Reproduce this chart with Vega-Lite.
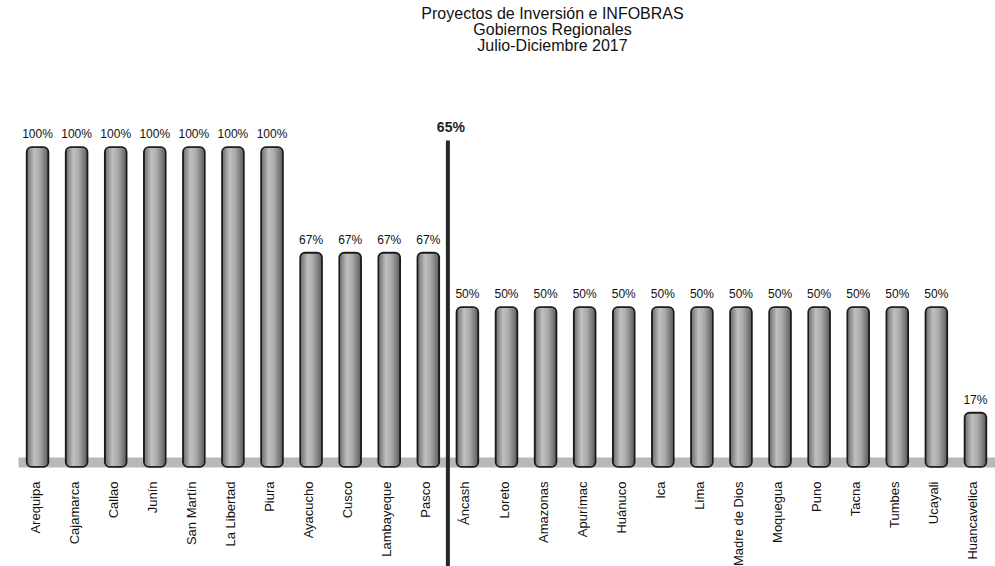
{
  "$schema": "https://vega.github.io/schema/vega-lite/v6.json",
  "width": 977,
  "height": 320,
  "autosize": {"type": "none"},
  "padding": {"left": 18, "top": 147, "right": 0, "bottom": 99},
  "background": "white",
  "config": {
    "view": {"stroke": null},
    "font": "Liberation Sans"
  },
  "title": {
    "text": ["Proyectos de Inversión e INFOBRAS", "Gobiernos Regionales", "Julio-Diciembre 2017"],
    "anchor": "middle",
    "dx": 46,
    "offset": 67,
    "fontSize": 16,
    "fontWeight": "normal",
    "lineHeight": 16,
    "font": "Liberation Sans",
    "color": "#111"
  },
  "datasets": {
    "bars": [
      {"region": "Arequipa", "pct": 100, "label": "100%"},
      {"region": "Cajamarca", "pct": 100, "label": "100%"},
      {"region": "Callao", "pct": 100, "label": "100%"},
      {"region": "Junín", "pct": 100, "label": "100%"},
      {"region": "San Martín", "pct": 100, "label": "100%"},
      {"region": "La Libertad", "pct": 100, "label": "100%"},
      {"region": "Piura", "pct": 100, "label": "100%"},
      {"region": "Ayacucho", "pct": 67, "label": "67%"},
      {"region": "Cusco", "pct": 67, "label": "67%"},
      {"region": "Lambayeque", "pct": 67, "label": "67%"},
      {"region": "Pasco", "pct": 67, "label": "67%"},
      {"region": "Áncash", "pct": 50, "label": "50%"},
      {"region": "Loreto", "pct": 50, "label": "50%"},
      {"region": "Amazonas", "pct": 50, "label": "50%"},
      {"region": "Apurímac", "pct": 50, "label": "50%"},
      {"region": "Huánuco", "pct": 50, "label": "50%"},
      {"region": "Ica", "pct": 50, "label": "50%"},
      {"region": "Lima", "pct": 50, "label": "50%"},
      {"region": "Madre de Dios", "pct": 50, "label": "50%"},
      {"region": "Moquegua", "pct": 50, "label": "50%"},
      {"region": "Puno", "pct": 50, "label": "50%"},
      {"region": "Tacna", "pct": 50, "label": "50%"},
      {"region": "Tumbes", "pct": 50, "label": "50%"},
      {"region": "Ucayali", "pct": 50, "label": "50%"},
      {"region": "Huancavelica", "pct": 17, "label": "17%"}
    ],
    "avg": [
      {"region": "Pasco", "label": "65%", "top": 102, "bottom": -32, "labelpos": 106}
    ]
  },
  "layer": [
    {
      "data": {"name": "bars"},
      "mark": {
        "type": "bar",
        "cornerRadiusTopLeft": 5,
        "cornerRadiusTopRight": 5,
        "cornerRadiusBottomLeft": 5,
        "cornerRadiusBottomRight": 5,
        "stroke": "#1a1a1a",
        "strokeWidth": 1.6,
        "color": {
          "gradient": "linear",
          "x1": 0, "y1": 0, "x2": 1, "y2": 0,
          "stops": [
            {"offset": 0, "color": "#6a6a6a"},
            {"offset": 0.35, "color": "#c0c0c0"},
            {"offset": 0.6, "color": "#aaaaaa"},
            {"offset": 1, "color": "#5a5a5a"}
          ]
        }
      },
      "encoding": {
        "x": {
          "field": "region",
          "type": "nominal",
          "sort": null,
          "scale": {"paddingInner": 0.44, "paddingOuter": 0.22},
          "axis": {
            "title": null,
            "labelAngle": -90,
            "labelFont": "Liberation Sans",
            "labelFontSize": 13,
            "labelColor": "#111",
            "labelPadding": 19,
            "labelOffset": -2,
            "labelOverlap": false,
            "labelLimit": 200,
            "ticks": false,
            "domainColor": "#b8b8b8",
            "domainWidth": 10,
            "offset": -5
          }
        },
        "y": {
          "field": "pct",
          "type": "quantitative",
          "scale": {"domain": [0, 100], "nice": false},
          "axis": null
        }
      }
    },
    {
      "data": {"name": "bars"},
      "mark": {"type": "text", "dy": -13, "fontSize": 12, "font": "Liberation Sans", "color": "#111"},
      "encoding": {
        "x": {"field": "region", "type": "nominal", "sort": null},
        "y": {"field": "pct", "type": "quantitative"},
        "text": {"field": "label"}
      }
    },
    {
      "data": {"name": "avg"},
      "mark": {"type": "rule", "strokeWidth": 4, "color": "#262626"},
      "encoding": {
        "x": {"field": "region", "type": "nominal", "sort": null, "bandPosition": 1.393},
        "y": {"field": "top", "type": "quantitative"},
        "y2": {"field": "bottom"}
      }
    },
    {
      "data": {"name": "avg"},
      "mark": {"type": "text", "fontSize": 14, "fontWeight": "bold", "font": "Liberation Sans", "color": "#222", "dx": 3},
      "encoding": {
        "x": {"field": "region", "type": "nominal", "sort": null, "bandPosition": 1.393},
        "y": {"field": "labelpos", "type": "quantitative"},
        "text": {"field": "label"}
      }
    }
  ]
}
